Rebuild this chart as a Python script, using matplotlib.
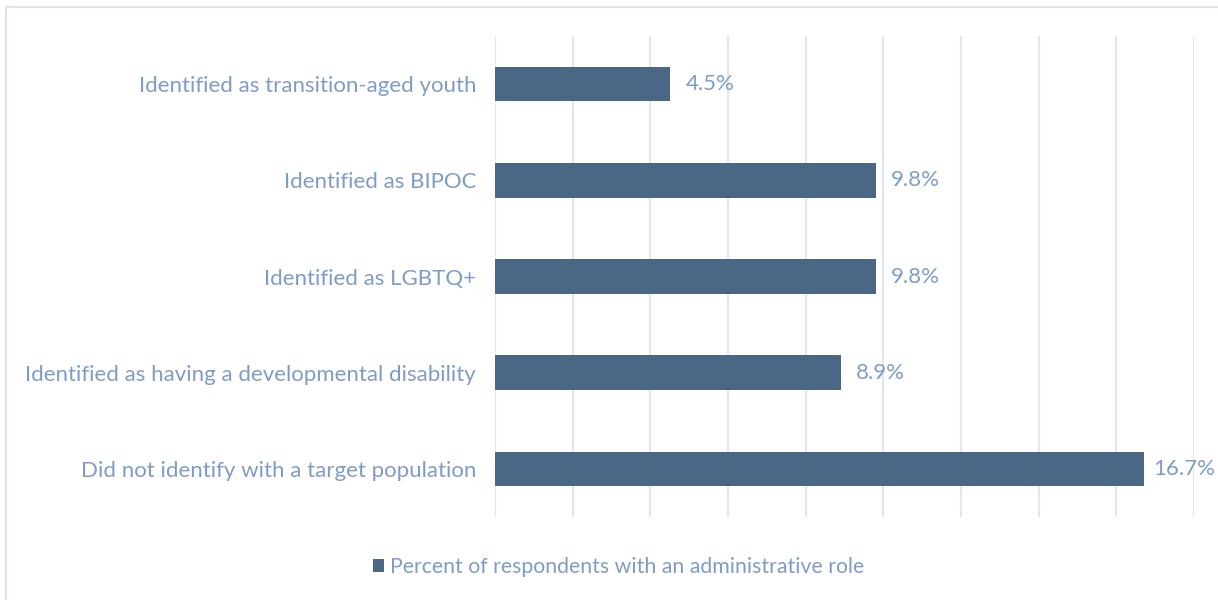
import matplotlib.pyplot as plt
from matplotlib.patches import Rectangle

# ---------------------------------------------------------
# DATA
# ---------------------------------------------------------

categories = [
    "Identified as transition-aged youth",
    "Identified as BIPOC",
    "Identified as LGBTQ+",
    "Identified as having a developmental disability",
    "Did not identify with a target population",
]
values = [4.5, 9.8, 9.8, 8.9, 16.7]
series_name = "Percent of respondents with an administrative role"

BAR_COLOR = "#4A6785"
TEXT_COLOR = "#7F9CC6"
GRID_COLOR = "#E1E6F0"
FRAME_COLOR = "#DDE4F1"
X_MAX = 18

plt.rcParams["font.family"] = ["Lato", "DejaVu Sans"]

fig = plt.figure(figsize=(12.18, 6.0), dpi=100)
ax = fig.add_axes([0.4064, 0.1383, 0.5739, 0.8017])

ypos = list(range(len(categories)))
ax.barh(ypos, values, height=0.36, color=BAR_COLOR, label=series_name, zorder=3)

# value labels; keep the longest one inside the figure
for y, v in zip(ypos, values):
    ax.text(min(v + 0.4, X_MAX - 1.05), y, f"{v:.1f}%", va="center", ha="left",
            fontsize=16, color=TEXT_COLOR, zorder=4, clip_on=False)

ax.set_xlim(0, X_MAX)
ax.set_ylim(len(categories) - 0.5, -0.5)
ax.set_xticks(range(0, X_MAX + 1, 2))
ax.set_xticklabels([])
ax.set_yticks(ypos)
ax.set_yticklabels(categories, fontsize=16, color=TEXT_COLOR)
ax.tick_params(axis="both", length=0)
ax.tick_params(axis="y", pad=13.5)
ax.grid(axis="x", color=GRID_COLOR, linewidth=1.5, zorder=0)
for s in ax.spines.values():
    s.set_visible(False)

leg = fig.legend(loc="center", bbox_to_anchor=(0.508, 0.055), frameon=False,
                 fontsize=15.3, handlelength=0.52, handleheight=0.52,
                 handletextpad=0.28)
for t in leg.get_texts():
    t.set_color(TEXT_COLOR)

# outer chart frame
fig.patches.append(Rectangle((6 / 1218, -0.05), 1.2, 1 - 7 / 600 + 0.05,
                             transform=fig.transFigure, fill=False,
                             edgecolor=FRAME_COLOR, linewidth=1.5))

fig.savefig("out.png", dpi=100)
